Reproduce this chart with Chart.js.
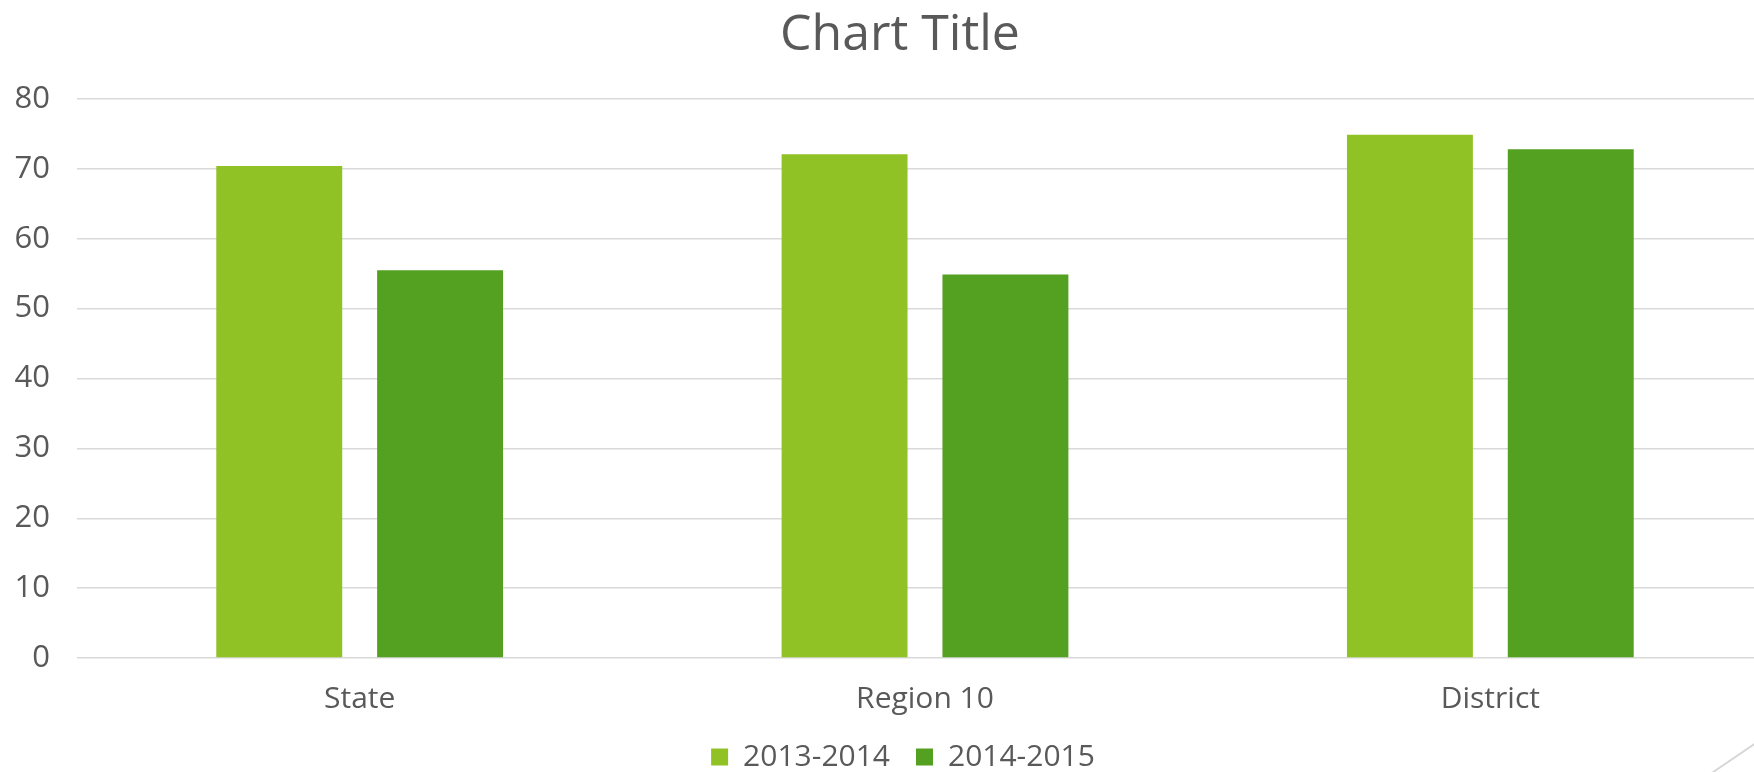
<!DOCTYPE html>
<html>
<head>
<meta charset="utf-8">
<title>Chart Title</title>
<script src="https://cdn.jsdelivr.net/npm/chart.js@4/dist/chart.umd.min.js"></script>
<style>
    html, body { margin: 0; padding: 0; background: #fff; overflow: hidden; }
    #wrap { width: 1754px; height: 772px; overflow: hidden; position: relative; }
    #chart { position: absolute; left: 0; top: 0; }
</style>
</head>
<body>
<div id="wrap"><canvas id="chart" width="1800" height="782"></canvas></div>
<script>
// data
const categories = ['State', 'Region 10', 'District'];
const seriesNames = ['2013-2014', '2014-2015'];
const values2013 = [70.4, 72.1, 74.9];
const values2014 = [55.5, 54.9, 72.8];
const yTicks = [0, 10, 20, 30, 40, 50, 60, 70, 80];

const textColor = '#595959';
const fontFamily = '"Open Sans", "Noto Sans", sans-serif';

// title and legend are centred on the whole chart in the original, not on the
// space right of the y labels, so nudge their boxes after layout
const recenter = {
    id: 'recenter',
    afterLayout(chart) {
        if (chart.titleBlock) chart.titleBlock.left = 27;
        if (chart.legend) chart.legend.left = 33;
    }
};

// the little slide decoration in the bottom right corner
const cornerLine = {
    id: 'cornerLine',
    afterDraw(chart) {
        const c = chart.ctx;
        c.save();
        c.strokeStyle = '#d6d6d6';
        c.lineWidth = 2;
        c.beginPath();
        c.moveTo(1700, 781);
        c.lineTo(1800, 713);
        c.stroke();
        c.restore();
    }
};

document.addEventListener('DOMContentLoaded', function () {
    var ctx = document.getElementById('chart').getContext('2d');
    new Chart(ctx, {
        type: 'bar',
        data: {
            labels: categories,
            datasets: [{
                label: seriesNames[0],
                data: values2013,
                backgroundColor: '#90C226',
                categoryPercentage: 0.569,
                barPercentage: 0.783
            }, {
                label: seriesNames[1],
                data: values2014,
                backgroundColor: '#54A021',
                categoryPercentage: 0.569,
                barPercentage: 0.783
            }]
        },
        options: {
            responsive: false,
            devicePixelRatio: 1,
            animation: false,
            layout: { padding: { left: 0, right: 27, top: 0, bottom: 0 } },
            scales: {
                x: {
                    grid: { display: false, drawTicks: false },
                    border: { display: false },
                    // pull the legend a bit closer to the category labels
                    afterFit: function (scale) { scale.height = scale.height - 24; },
                    ticks: {
                        color: textColor,
                        padding: 23,
                        font: { family: fontFamily, size: 30, lineHeight: 1.2 }
                    }
                },
                y: {
                    min: yTicks[0],
                    max: yTicks[yTicks.length - 1],
                    afterBuildTicks: function (scale) {
                        scale.ticks = yTicks.map(v => ({ value: v }));
                    },
                    afterFit: function (scale) { scale.width = 77; },
                    grid: { color: '#d9d9d9', lineWidth: 1.5, drawTicks: false },
                    border: { display: false },
                    ticks: {
                        color: textColor,
                        padding: 27,
                        font: { family: fontFamily, size: 31, lineHeight: 1.2 }
                    }
                }
            },
            plugins: {
                title: {
                    display: true,
                    text: 'Chart Title',
                    color: textColor,
                    font: { family: fontFamily, size: 50, weight: 'normal', lineHeight: 1.2 },
                    padding: { top: 6, bottom: 33 }
                },
                legend: {
                    position: 'bottom',
                    labels: {
                        color: textColor,
                        boxWidth: 17,
                        boxHeight: 17,
                        padding: 26,
                        font: { family: fontFamily, size: 30 }
                    }
                },
                tooltip: { enabled: false }
            }
        },
        plugins: [recenter, cornerLine]
    });
});
</script>
</body>
</html>
